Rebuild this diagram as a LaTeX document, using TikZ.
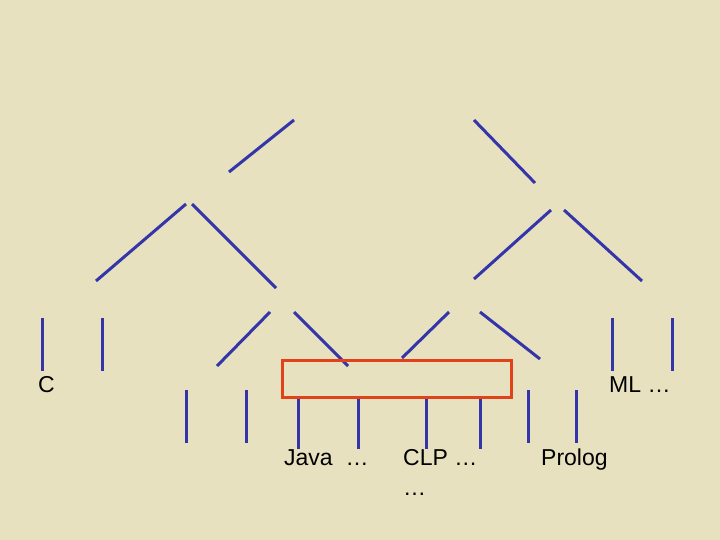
\documentclass[tikz,border=0pt]{standalone}
\usepackage{fontspec}
\setmainfont{Liberation Sans}
\usepackage{tikz}
\usetikzlibrary{positioning}
\definecolor{paper}{HTML}{E7E1C0}
\definecolor{treeblue}{HTML}{3535AA}
\definecolor{boxred}{HTML}{E2421A}

\begin{document}
\begin{tikzpicture}[
		x=1pt, y=-1pt,
		branch/.style={draw=treeblue, line width=3pt},
		lbl/.style={anchor=base west, inner sep=0pt, font=\fontsize{23}{30}\selectfont},
		selbox/.style={draw=boxred, line width=3pt, minimum width=229pt, minimum height=37pt, inner sep=0pt}
		]

		% fond
		\fill[paper] (0,0) rectangle (720,540);
		\useasboundingbox (0,0) rectangle (720,540);

		% niveau 1
		\coordinate (R1) at (294,120); \coordinate (R1e) at (229,172);
		\coordinate (R2) at (474,120); \coordinate (R2e) at (535,183);
		\draw[branch] (R1) -- (R1e);
		\draw[branch] (R2) -- (R2e);

		% niveau 2
		\coordinate (A1) at (186,204); \coordinate (A1e) at (96,281);
		\coordinate (A2) at (192,204); \coordinate (A2e) at (276,288);
		\coordinate (B1) at (551,210); \coordinate (B1e) at (474,279);
		\coordinate (B2) at (564,210); \coordinate (B2e) at (642,281);
		\draw[branch] (A1) -- (A1e);
		\draw[branch] (A2) -- (A2e);
		\draw[branch] (B1) -- (B1e);
		\draw[branch] (B2) -- (B2e);

		% niveau 3
		\coordinate (C1) at (42,318);  \coordinate (C1e) at (42,371);
		\coordinate (C2) at (102,318); \coordinate (C2e) at (102,371);
		\coordinate (D1) at (270,312); \coordinate (D1e) at (217,366);
		\coordinate (D2) at (294,312); \coordinate (D2e) at (348,366);
		\coordinate (E1) at (449,312); \coordinate (E1e) at (402,358);
		\coordinate (E2) at (480,312); \coordinate (E2e) at (540,359);
		\coordinate (F1) at (612,318); \coordinate (F1e) at (612,371);
		\coordinate (F2) at (672,318); \coordinate (F2e) at (672,371);
		\draw[branch] (C1) -- (C1e);
		\draw[branch] (C2) -- (C2e);
		\draw[branch] (D1) -- (D1e);
		\draw[branch] (D2) -- (D2e);
		\draw[branch] (E1) -- (E1e);
		\draw[branch] (E2) -- (E2e);
		\draw[branch] (F1) -- (F1e);
		\draw[branch] (F2) -- (F2e);

		% niveau 4
		\coordinate (G1) at (186,390); \coordinate (G1e) at (186,443);
		\coordinate (G2) at (246,390); \coordinate (G2e) at (246,443);
		\coordinate (H1) at (298,397); \coordinate (H1e) at (298,449);
		\coordinate (H2) at (358,397); \coordinate (H2e) at (358,449);
		\coordinate (K1) at (426,397); \coordinate (K1e) at (426,449);
		\coordinate (K2) at (480,397); \coordinate (K2e) at (480,449);
		\coordinate (M1) at (528,390); \coordinate (M1e) at (528,443);
		\coordinate (M2) at (576,390); \coordinate (M2e) at (576,443);
		\draw[branch] (G1) -- (G1e);
		\draw[branch] (G2) -- (G2e);
		\draw[branch] (H1) -- (H1e);
		\draw[branch] (H2) -- (H2e);
		\draw[branch] (K1) -- (K1e);
		\draw[branch] (K2) -- (K2e);
		\draw[branch] (M1) -- (M1e);
		\draw[branch] (M2) -- (M2e);

		% cadre rouge
		\node[selbox] (sel) at (396.5,378.5) {};

		% etiquettes
		\node[lbl] (langC) at (38,392) {C};
		\node[lbl] (langML) at (609,392) {ML …};
		\node[lbl] (java) at (284,465) {Java\ \ …};
		\node[lbl] (clp) at (403,465) {CLP …};
		\node[lbl] (clpdots) at (403,495) {…};
		\node[lbl] (prolog) at (541,465) {Prolog};
	\end{tikzpicture}
\end{document}
